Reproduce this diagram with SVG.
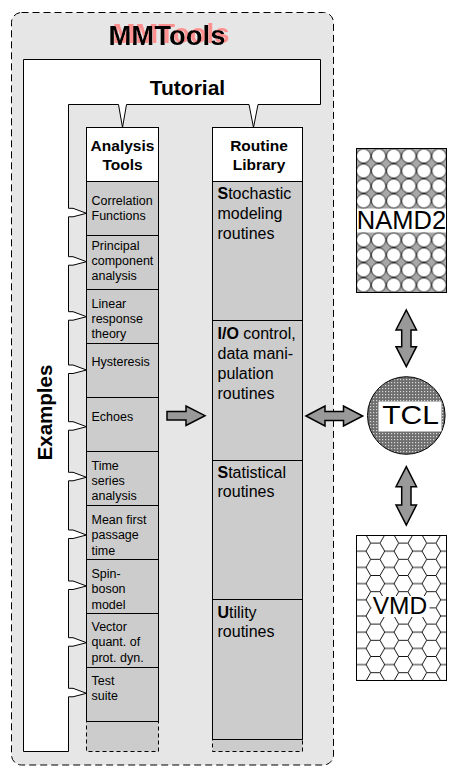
<svg xmlns="http://www.w3.org/2000/svg" width="457" height="777" viewBox="0 0 457 777">
<defs>
<style>
text{font-family:"Liberation Sans",Arial,Helvetica,sans-serif;fill:#000}
.b{font-weight:bold}
.hd{font-size:15.5px;font-weight:bold;text-anchor:middle}
.sm{font-size:12.5px}
.md{font-size:16px}
.cell{fill:#cccccc;stroke:#000;stroke-width:1}
.dcell{fill:#cccccc;stroke:#000;stroke-width:1;stroke-dasharray:4 3}
.wh{fill:#fff;stroke:#000;stroke-width:1}
.arr{fill:#999999;stroke:#000;stroke-width:1.5;stroke-linejoin:miter}
</style>
<filter id="pinkshadow" x="-10%" y="-30%" width="120%" height="160%">
<feOffset in="SourceAlpha" dx="4" dy="-2" result="off"/>
<feFlood flood-color="#ff9090" result="fl"/>
<feComposite in="fl" in2="off" operator="in" result="sh"/>
<feMerge><feMergeNode in="sh"/><feMergeNode in="SourceGraphic"/></feMerge>
</filter>
<pattern id="dots" width="3" height="3" patternUnits="userSpaceOnUse">
<rect width="3" height="3" fill="#6e6e6e"/>
<rect x="1" y="1" width="1.2" height="1.2" fill="#d8d8d8"/>
</pattern>
<pattern id="circA" x="356" y="148.5" width="15.1" height="15" patternUnits="userSpaceOnUse">
<rect width="15.1" height="15" fill="#a8a8a8"/>
<circle cx="7.55" cy="7.5" r="7.1" fill="#fff" stroke="#000" stroke-width="0.8"/>
</pattern>
<pattern id="circB" x="356" y="232.5" width="15.1" height="15" patternUnits="userSpaceOnUse">
<rect width="15.1" height="15" fill="#a8a8a8"/>
<circle cx="7.55" cy="7.5" r="7.1" fill="#fff" stroke="#000" stroke-width="0.8"/>
</pattern>
<pattern id="hex" x="352" y="535" width="28" height="16.2" patternUnits="userSpaceOnUse">
<rect width="28" height="16.2" fill="#fff"/>
<path d="M0,8.1 L4.675,0 L14.025,0 L18.7,8.1 L14.025,16.2 L4.675,16.2 Z M18.7,8.1 L28,8.1" fill="none" stroke="#000" stroke-width="0.9"/>
</pattern>
</defs>

<g id="mmtools">
<rect x="11.5" y="12.5" width="322" height="752.5" rx="10" ry="10" fill="#e6e6e6" stroke="#000" stroke-width="1" stroke-dasharray="7 4"/>
<text x="167" y="45" class="b" font-size="27.5" text-anchor="middle" filter="url(#pinkshadow)">MMTools</text>
</g>

<g id="tutorial">
<path class="wh" d="M23.5,59.5 H320.5 V104.5 H258 L253.5,127.5 L249,104.5 H126.5 L122.5,127.5 L118.5,104.5 H68.5
V208.3 L73,208.3 L86.5,213.3 L73,216.8 L68.5,216.8
V256.7 L73,256.7 L86.5,261.7 L73,265.2 L68.5,265.2
V311.7 L73,311.7 L86.5,316.7 L73,320.2 L68.5,320.2
V365 L73,365 L86.5,370 L73,373.5 L68.5,373.5
V421.7 L73,421.7 L86.5,426.7 L73,430.2 L68.5,430.2
V472.3 L73,472.3 L86.5,477.3 L73,480.8 L68.5,480.8
V530 L73,530 L86.5,535 L73,538.5 L68.5,538.5
V581 L73,581 L86.5,586 L73,589.5 L68.5,589.5
V637.7 L73,637.7 L86.5,642.7 L73,646.2 L68.5,646.2
V688.3 L73,688.3 L86.5,693.3 L73,696.8 L68.5,696.8
V751.5 H23.5 Z"/>
<text x="187.5" y="95" class="b" font-size="21" text-anchor="middle">Tutorial</text>
<text transform="translate(51.5,412.5) rotate(-90)" class="b" font-size="20.5" text-anchor="middle">Examples</text>
</g>

<g id="analysis-tools">
<rect class="wh" x="86.5" y="127.5" width="72" height="54"/>
<text class="hd" x="122.5" y="150.7">Analysis</text>
<text class="hd" x="122.5" y="170.2">Tools</text>
<rect class="cell" x="86.5" y="181.5" width="72" height="54"/>
<rect class="cell" x="86.5" y="235.5" width="72" height="54"/>
<rect class="cell" x="86.5" y="289.5" width="72" height="54"/>
<rect class="cell" x="86.5" y="343.5" width="72" height="54"/>
<rect class="cell" x="86.5" y="397.5" width="72" height="54"/>
<rect class="cell" x="86.5" y="451.5" width="72" height="54"/>
<rect class="cell" x="86.5" y="505.5" width="72" height="54"/>
<rect class="cell" x="86.5" y="559.5" width="72" height="54"/>
<rect class="cell" x="86.5" y="613.5" width="72" height="54"/>
<rect class="cell" x="86.5" y="667.5" width="72" height="54"/>
<rect class="dcell" x="86.5" y="721.5" width="72" height="30"/>
<line x1="86.5" y1="721.5" x2="158.5" y2="721.5" stroke="#000" stroke-width="1"/>
<text class="sm"><tspan x="91.5" y="204.5">Correlation</tspan><tspan x="91.5" y="219.5">Functions</tspan></text>
<text class="sm"><tspan x="91.5" y="249.5">Principal</tspan><tspan x="91.5" y="264.8">component</tspan><tspan x="91.5" y="280">analysis</tspan></text>
<text class="sm"><tspan x="91.5" y="307.8">Linear</tspan><tspan x="91.5" y="323">response</tspan><tspan x="91.5" y="338.3">theory</tspan></text>
<text class="sm" x="91.5" y="366">Hysteresis</text>
<text class="sm" x="91.5" y="420.5">Echoes</text>
<text class="sm"><tspan x="91.5" y="469.5">Time</tspan><tspan x="91.5" y="484.8">series</tspan><tspan x="91.5" y="500.1">analysis</tspan></text>
<text class="sm"><tspan x="91.5" y="524">Mean first</tspan><tspan x="91.5" y="539.3">passage</tspan><tspan x="91.5" y="554.6">time</tspan></text>
<text class="sm"><tspan x="91.5" y="578">Spin-</tspan><tspan x="91.5" y="593.3">boson</tspan><tspan x="91.5" y="608.6">model</tspan></text>
<text class="sm"><tspan x="91.5" y="631">Vector</tspan><tspan x="91.5" y="646.3">quant. of</tspan><tspan x="91.5" y="661.6">prot. dyn.</tspan></text>
<text class="sm"><tspan x="91.5" y="684.5">Test</tspan><tspan x="91.5" y="699.8">suite</tspan></text>
</g>

<g id="routine-library">
<rect class="wh" x="212.5" y="127.5" width="90" height="54"/>
<text class="hd" x="259" y="150.7">Routine</text>
<text class="hd" x="259" y="170.2">Library</text>
<rect class="cell" x="212.5" y="181.5" width="90" height="139"/>
<rect class="cell" x="212.5" y="320.5" width="90" height="140"/>
<rect class="cell" x="212.5" y="460.5" width="90" height="139"/>
<rect class="cell" x="212.5" y="599.5" width="90" height="140"/>
<rect class="dcell" x="212.5" y="739.5" width="90" height="12"/>
<line x1="212.5" y1="739.5" x2="302.5" y2="739.5" stroke="#000" stroke-width="1"/>
<text class="md"><tspan x="217.5" y="199"><tspan class="b">S</tspan>tochastic</tspan><tspan x="217.5" y="219">modeling</tspan><tspan x="217.5" y="239">routines</tspan></text>
<text class="md"><tspan x="217.5" y="339"><tspan class="b">I/O</tspan> control,</tspan><tspan x="217.5" y="359">data mani-</tspan><tspan x="217.5" y="379">pulation</tspan><tspan x="217.5" y="399">routines</tspan></text>
<text class="md"><tspan x="217.5" y="477.5"><tspan class="b">S</tspan>tatistical</tspan><tspan x="217.5" y="497">routines</tspan></text>
<text class="md"><tspan x="217.5" y="617.5"><tspan class="b">U</tspan>tility</tspan><tspan x="217.5" y="637">routines</tspan></text>
</g>

<g id="namd2">
<rect x="356.5" y="148.5" width="90" height="144" fill="#fff"/>
<rect x="356.5" y="148.5" width="90" height="60" fill="url(#circA)"/>
<rect x="356.5" y="232.5" width="90" height="60" fill="url(#circB)"/>
<rect x="356.5" y="148.5" width="90" height="144" fill="none" stroke="#000" stroke-width="1"/>
<text x="401.5" y="229" font-size="25.5" text-anchor="middle">NAMD2</text>
</g>

<g id="tcl">
<circle cx="406.3" cy="415.5" r="38.8" fill="url(#dots)" stroke="#000" stroke-width="1"/>
<rect x="378.5" y="401.5" width="63" height="30" fill="#fff"/>
<text transform="translate(410.5,424) scale(1.2,1)" font-size="25" text-anchor="middle">TCL</text>
</g>

<g id="vmd">
<rect x="356.5" y="535.5" width="90" height="145" fill="url(#hex)" stroke="#000" stroke-width="1"/>
<rect x="371.5" y="596" width="58" height="21" fill="#fff"/>
<text x="400" y="614" font-size="24.5" text-anchor="middle">VMD</text>
</g>

<g id="connectors">
<polygon class="arr" points="167,411.5 186,411.5 186,406 205,415.7 186,425.5 186,420 167,420"/>
<polygon class="arr" points="306,416 325,406 325,411.5 343.5,411.5 343.5,406 362.7,416 343.5,426 343.5,420.5 325,420.5 325,426"/>
<polygon class="arr" points="406.3,310 416.5,330 411,330 411,346.7 416.5,346.7 406.3,366.7 396,346.7 401.7,346.7 401.7,330 396,330"/>
<polygon class="arr" points="406.3,466.7 416.5,486.7 411,486.7 411,505 416.5,505 406.3,525 396,505 401.7,505 401.7,486.7 396,486.7"/>
</g>
</svg>
